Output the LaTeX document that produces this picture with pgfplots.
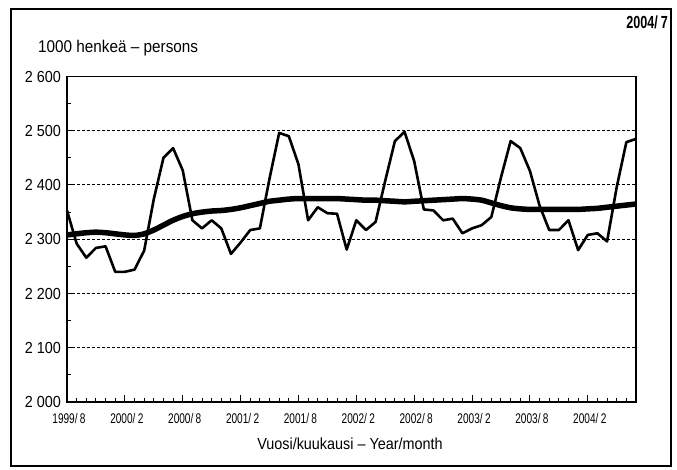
\documentclass[border=0pt]{standalone}
\usepackage{fontspec}
\setmainfont{Liberation Sans}
\newfontfamily\narrowA{Liberation Sans}[FakeStretch=0.9,Ligatures=TeX]
\newfontfamily\narrowB{Liberation Sans}[FakeStretch=0.72,Ligatures=TeX]
\usepackage{pgfplots}
\pgfplotsset{compat=1.18}
\begin{document}
\begin{tikzpicture}[x=1pt,y=1pt]
\useasboundingbox (0,0) rectangle (677,469);
\draw[line width=1.4pt] (11,3) rectangle (671,460);
\node[anchor=east,inner sep=0pt,font=\narrowB\bfseries\fontsize{17.5}{17.5}\selectfont] at (668,447) {2004/\,7};
\node[anchor=west,inner sep=0pt,font=\narrowA\fontsize{17}{17}\selectfont] at (38,421) {1000 henkeä – persons};
\node[anchor=center,inner sep=0pt,font=\narrowA\fontsize{16}{16}\selectfont] at (350,25) {Vuosi/kuukausi – Year/month};
\begin{axis}[
  at={(67pt,67pt)}, anchor=south west,
  scale only axis, width=569pt, height=325.5pt,
  xmin=0, xmax=59, ymin=2000, ymax=2600,
  axis line style={line width=1.3pt},
  xtick={0,6,...,54},
  xticklabels={1999/\,8,2000/\,2,2000/\,8,2001/\,2,2001/\,8,2002/\,2,2002/\,8,2003/\,2,2003/\,8,2004/\,2},
  minor xtick={0,...,59},
  ytick={2000,2100,...,2600},
  yticklabels={2\ 000,2\ 100,2\ 200,2\ 300,2\ 400,2\ 500,2\ 600},
  minor ytick={2050,2150,...,2550},
  tick align=inside,
  xtick pos=bottom, ytick pos=left,
  major tick length=7pt, minor tick length=4pt,
  tick style={line width=1pt,black},
  ymajorgrids,
  major grid style={line width=1pt, dash pattern=on 3pt off 2pt, black},
  xticklabel style={font=\narrowB\fontsize{14}{14}\selectfont, anchor=base, inner sep=0pt, yshift=-21pt, xshift=2pt},
  yticklabel style={font=\narrowA\fontsize{16}{16}\selectfont, anchor=east, inner sep=0pt, xshift=-6pt},
  clip=false,
]
\addplot[black, line width=2.6pt, line join=round] coordinates {
(0,2353) (1,2292) (2,2266) (3,2284) (4,2287) (5,2240) (6,2240) (7,2244) (8,2279) (9,2374)
(10,2450) (11,2468) (12,2427) (13,2335) (14,2320) (15,2335) (16,2320) (17,2273) (18,2294) (19,2317)
(20,2320) (21,2412) (22,2496) (23,2490) (24,2438) (25,2335) (26,2359) (27,2348) (28,2347) (29,2281)
(30,2335) (31,2317) (32,2332) (33,2408) (34,2481) (35,2498) (36,2444) (37,2355) (38,2353) (39,2335)
(40,2338) (41,2311) (42,2320) (43,2326) (44,2341) (45,2414) (46,2481) (47,2468) (48,2426) (49,2362)
(50,2317) (51,2317) (52,2335) (53,2280) (54,2308) (55,2311) (56,2296) (57,2396) (58,2479) (59,2485)
};
\addplot[black, line width=5.5pt, smooth] coordinates {
(0,2308) (1,2310) (2,2312) (3,2313) (4,2312) (5,2310) (6,2308) (7,2307) (8,2310) (9,2317)
(10,2326) (11,2335) (12,2342) (13,2347) (14,2350) (15,2352) (16,2353) (17,2355) (18,2358) (19,2362)
(20,2366) (21,2370) (22,2372) (23,2374) (24,2375) (25,2375) (26,2375) (27,2375) (28,2375) (29,2374)
(30,2373) (31,2372) (32,2372) (33,2371) (34,2370) (35,2369) (36,2370) (37,2371) (38,2372) (39,2373)
(40,2374) (41,2375) (42,2374) (43,2372) (44,2367) (45,2362) (46,2358) (47,2356) (48,2355) (49,2355)
(50,2355) (51,2355) (52,2355) (53,2355) (54,2356) (55,2357) (56,2359) (57,2361) (58,2363) (59,2365)
};
\end{axis}
\end{tikzpicture}
\end{document}
